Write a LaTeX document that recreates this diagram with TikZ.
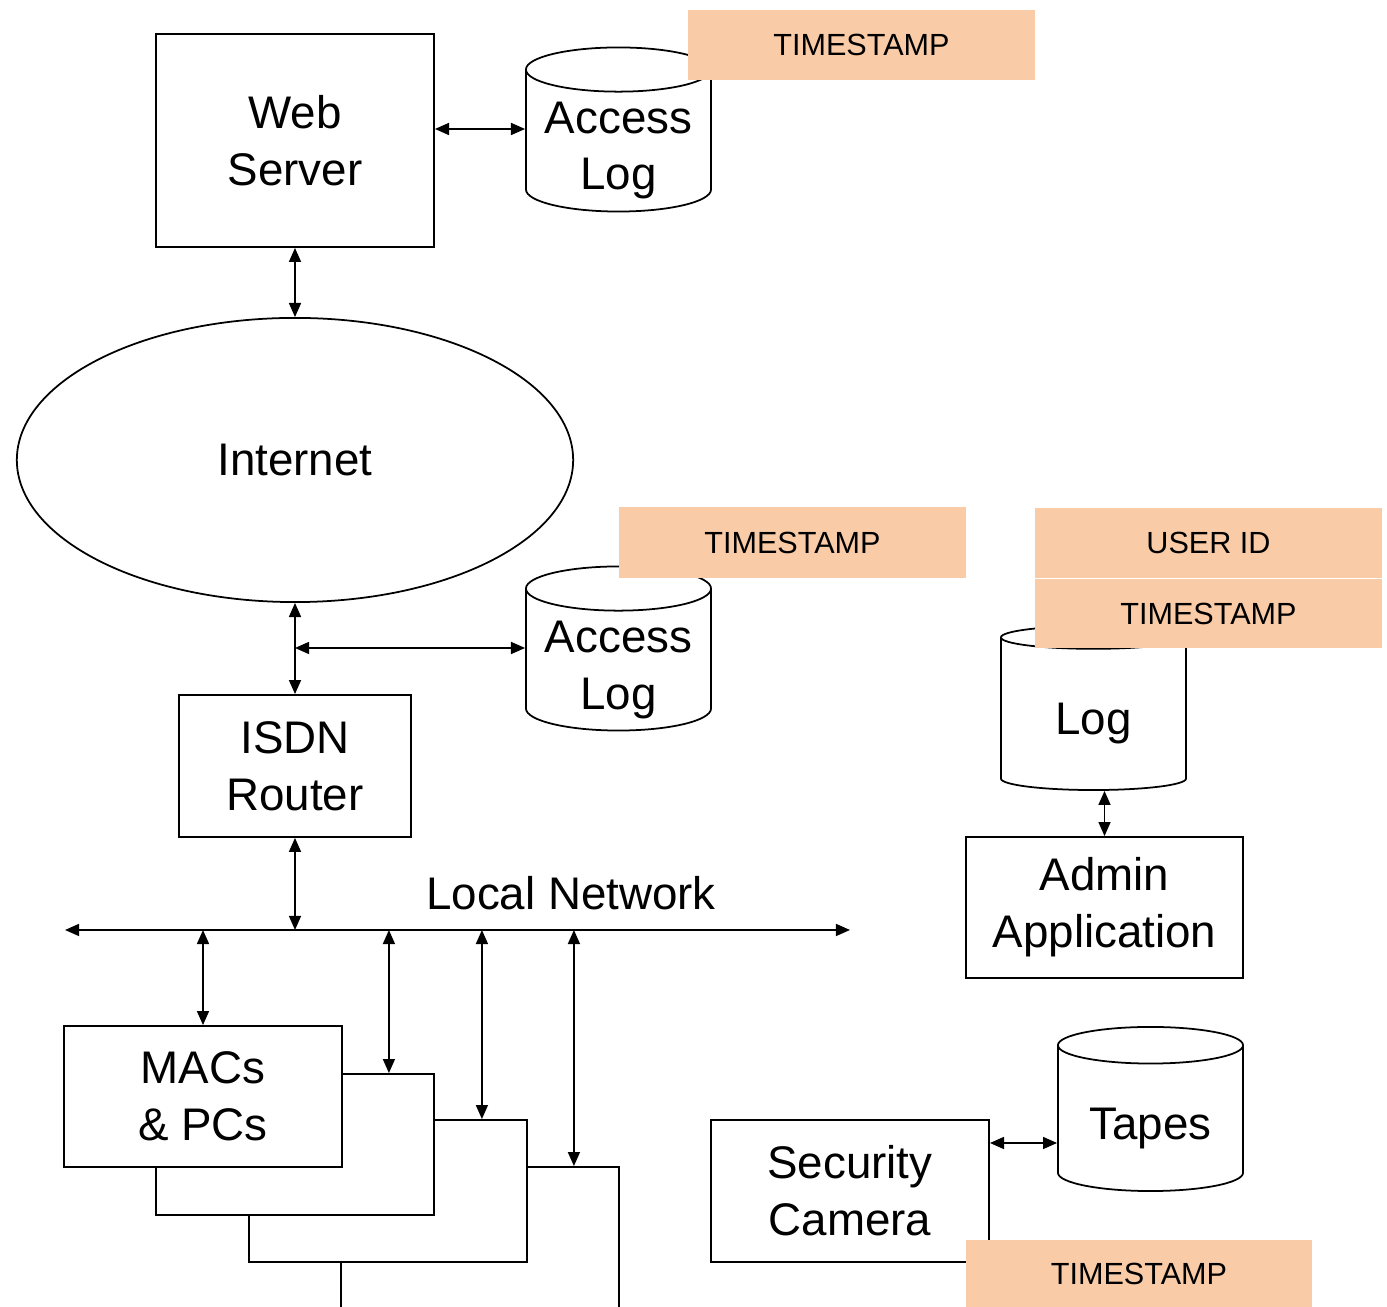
\documentclass[tikz,border=0pt]{standalone}
\usepackage{fontspec}
\setmainfont{Liberation Sans}
\usetikzlibrary{shapes.geometric,arrows.meta}
\definecolor{tagpeach}{RGB}{249,203,166}
\newcommand{\bigtxt}{\fontsize{13pt}{16.2pt}\selectfont}
\newcommand{\dbtext}[1]{\raisebox{-5.6pt}[0pt][0pt]{\begin{tabular}{@{}c@{}}#1\end{tabular}}}
\tikzset{
  >={Triangle[length=4pt,width=3.4pt]},
  every node/.style={inner sep=0pt},
  box/.style={draw,fill=white,align=center,font=\bigtxt},
  db/.style={cylinder,shape border rotate=90,aspect=0.3,draw,fill=white,
    font=\bigtxt,minimum width=1.85cm,minimum height=1.64cm,anchor=shape center},
  tag/.style={fill=tagpeach,font=\fontsize{8.7pt}{10pt}\selectfont,minimum width=3.47cm,minimum height=0.7cm}
}
\begin{document}
\begin{tikzpicture}[x=0.01cm,y=-0.01cm,line width=0.5pt]
  \useasboundingbox (0,0) rectangle (1387,1307);
  \node[box,minimum width=2.78cm,minimum height=2.13cm] (web) at (295,140.5) {Web\\Server};
  \node[db] (alog1) at (618.5,129.5) {\dbtext{Access\\Log}};
  \node[tag] (ts1) at (861.5,45) {TIMESTAMP};
  \node[ellipse,draw,minimum width=5.56cm,minimum height=2.84cm,font=\bigtxt] (inet) at (295,460) {Internet};
  \node[db] (alog2) at (618.5,648.5) {\dbtext{Access\\Log}};
  \node[tag] (ts2) at (792.5,542.5) {TIMESTAMP};
  \node[box,minimum width=2.32cm,minimum height=1.42cm] (isdn) at (295,766) {ISDN\\Router};
  \draw[<->] (web.east |- 0,129) -- (alog1.west |- 0,129);
  \draw[<->] (web.south) -- (inet.north);
  \draw[<->] (inet.south) -- (isdn.north);
  \draw[<->] (inet.south |- 0,648) -- (alog2.west |- 0,648);
  \coordinate (busL) at (65,930);
  \coordinate (busR) at (850,930);
  \draw[<->] (busL) -- (busR);
  \node[font=\bigtxt] (lan) at (571,893) {Local Network};
  \draw[<->] (isdn.south) -- (isdn.south |- busL);
  \node[box,minimum width=2.78cm,minimum height=1.41cm] (pc4) at (480,1237.5) {};
  \node[box,minimum width=2.78cm,minimum height=1.42cm] (pc3) at (388,1191) {};
  \node[box,minimum width=2.78cm,minimum height=1.41cm] (pc2) at (295,1144.5) {};
  \node[box,minimum width=2.78cm,minimum height=1.41cm] (pc1) at (203,1096.5) {MACs\\\& PCs};
  \draw[<->] (pc1.north |- busL) -- (pc1.north);
  \foreach \p in {pc2,pc3,pc4}
    \draw[<->] ([xshift=-0.46cm]\p.north east |- busL) -- ([xshift=-0.46cm]\p.north east);
  \node[db] (log) at (1093.5,708) {\dbtext{Log}};
  \node[tag,minimum height=0.69cm] (uid) at (1208.5,543) {USER ID};
  \node[tag,minimum height=0.69cm] (ts3) at (1208.5,613.5) {TIMESTAMP};
  \node[box,minimum width=2.77cm,minimum height=1.41cm] (admin) at (1104.5,907.5) {Admin\\Application};
  \draw[<->] (admin.north |- log.south) -- (admin.north);
  \node[db] (tapes) at (1150.5,1109) {\dbtext{Tapes}};
  \node[box,minimum width=2.78cm,minimum height=1.42cm] (cam) at (850,1191) {Security\\Camera};
  \node[tag,minimum width=3.46cm,minimum height=0.67cm] (ts4) at (1139,1273.5) {TIMESTAMP};
  \draw[<->] (cam.east |- 0,1143) -- (tapes.west |- 0,1143);
\end{tikzpicture}
\end{document}
